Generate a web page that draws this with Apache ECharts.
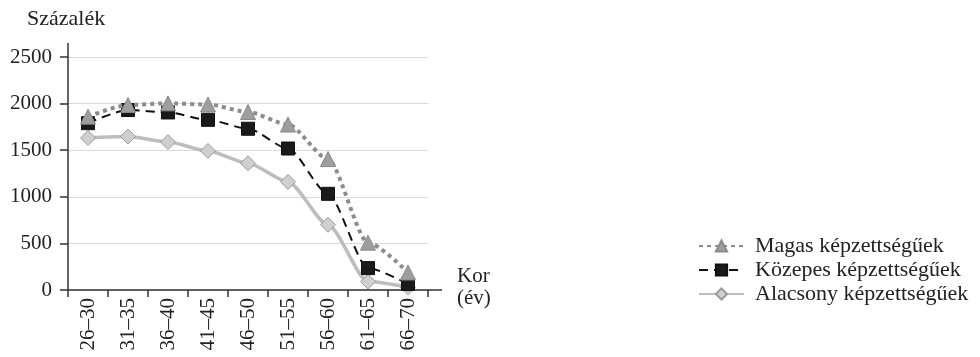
<!DOCTYPE html>
<html><head><meta charset="utf-8">
<script src="https://cdn.jsdelivr.net/npm/echarts@6/dist/echarts.min.js"></script>
<style>html,body{margin:0;padding:0;background:#fff}#c{width:980px;height:357px}</style>
</head><body><div id="c"></div>
<script>
const categories = ['26–30','31–35','36–40','41–45','46–50','51–55','56–60','61–65','66–70'];
const magas = [1860, 1985, 2003, 1990, 1910, 1775, 1405, 508, 188];
const kozepes = [1790, 1931, 1905, 1826, 1730, 1518, 1032, 235, 64];
const alacsony = [1632, 1646, 1587, 1492, 1360, 1160, 700, 90, 30];
const yTicks = {min: 0, max: 2500, interval: 500};
const seriesNames = ['Magas képzettségűek','Közepes képzettségűek','Alacsony képzettségűek'];

const FONT = 'Liberation Serif';
const TXT = '#222';
const chart = echarts.init(document.getElementById('c'), null, {renderer: 'canvas'});
const G = {left: 68, top: 57, width: 360, height: 233};
chart.setOption({
  animation: false,
  textStyle: {fontFamily: FONT, color: TXT},
  grid: {left: G.left, top: G.top, width: G.width, height: G.height, containLabel: false},
  legend: {
    orient: 'vertical', left: 693, top: 230, itemWidth: 45, itemHeight: 14, itemGap: 2,
    data: seriesNames,
    textStyle: {fontFamily: FONT, fontSize: 22, color: TXT, lineHeight: 22, padding: [0,0,0,6]}
  },
  xAxis: {
    type: 'category', data: categories, boundaryGap: true,
    axisLine: {lineStyle: {color: '#333', width: 1.5}},
    axisTick: {show: true, length: 7, interval: 0, lineStyle: {color: '#333', width: 1.5}},
    axisLabel: {rotate: 90, interval: 0, margin: 8, fontFamily: FONT, fontSize: 21, color: TXT},
    splitLine: {show: false}
  },
  yAxis: {
    type: 'value', min: yTicks.min, max: yTicks.max, interval: yTicks.interval,
    axisLine: {show: true, lineStyle: {color: '#333', width: 1.5}},
    axisTick: {show: true, length: 8, lineStyle: {color: '#333', width: 1.5}},
    axisLabel: {margin: 16, fontFamily: FONT, fontSize: 21, color: TXT, formatter: v => String(v)},
    splitLine: {show: true, lineStyle: {color: '#d9d9d9', width: 1}}
  },
  graphic: [
    {type: 'text', left: 27, top: 8, style: {text: 'Százalék', font: '22px "Liberation Serif"', fill: TXT}},
    {type: 'text', left: 457, top: 265, style: {text: 'Kor\n(év)', font: '21px "Liberation Serif"', fill: TXT, lineHeight: 22}},
    {type: 'line', shape: {x1: G.left + G.width, y1: G.top + G.height, x2: G.left + G.width + 14, y2: G.top + G.height}, style: {stroke: '#333', lineWidth: 1.5}},
    {type: 'line', shape: {x1: G.left, y1: G.top, x2: G.left, y2: G.top - 14}, style: {stroke: '#333', lineWidth: 1.5}}
  ],
  series: [
    {name: seriesNames[2], type: 'line', data: alacsony, smooth: 0.25, smoothMonotone: 'x', z: 2,
     symbol: 'diamond', symbolSize: 15,
     lineStyle: {color: '#bdbdbd', width: 3.5},
     itemStyle: {color: '#cfcfcf', borderColor: '#9a9a9a', borderWidth: 1}},
    {name: seriesNames[1], type: 'line', data: kozepes, smooth: 0.25, smoothMonotone: 'x', z: 3,
     symbol: 'rect', symbolSize: 13,
     lineStyle: {color: '#111', width: 2, type: [9, 6]},
     itemStyle: {color: '#1a1a1a', borderColor: '#111', borderWidth: 1}},
    {name: seriesNames[0], type: 'line', data: magas, smooth: 0.25, smoothMonotone: 'x', z: 4,
     symbol: 'triangle', symbolSize: 15,
     lineStyle: {color: '#8c8c8c', width: 4, type: [4, 4]},
     itemStyle: {color: '#9e9e9e', borderColor: '#8a8a8a', borderWidth: 1}}
  ]
});
</script></body></html>
